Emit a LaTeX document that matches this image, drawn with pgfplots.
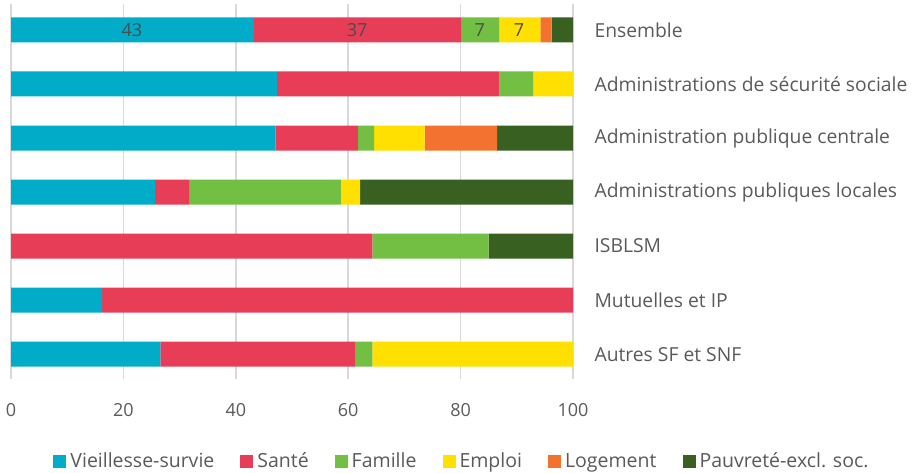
\documentclass[border=0pt]{standalone}
\usepackage{pgfplots}
\pgfplotsset{compat=1.18}
\usepackage{fontspec}
\setmainfont{Open Sans}
\definecolor{cViel}{HTML}{00ACC8}
\definecolor{cSante}{HTML}{E83D56}
\definecolor{cFam}{HTML}{72BF44}
\definecolor{cEmp}{HTML}{FFE000}
\definecolor{cLog}{HTML}{F3722F}
\definecolor{cPauv}{HTML}{376021}
\definecolor{txt}{HTML}{5A5A5A}
\begin{document}
\begin{tikzpicture}
\useasboundingbox (-11pt,-94pt) rectangle (904pt,379pt);
\begin{axis}[
  at={(0pt,0pt)}, anchor=south west,
  scale only axis,
  width=562pt, height=375pt,
  xbar stacked,
  bar width=25pt,
  xmin=0, xmax=100,
  ymin=-0.48, ymax=6.46,
  y dir=reverse,
  ytick={0,1,2,3,4,5,6},
  yticklabels={Ensemble,Administrations de sécurité sociale,Administration publique centrale,Administrations publiques locales,ISBLSM,Mutuelles et IP,Autres SF et SNF},
  yticklabel pos=right,
  yticklabel style={anchor=west, xshift=18pt, font=\fontsize{19.3}{21}\selectfont, text=txt},
  xtick={0,20,40,60,80,100},
  xticklabel style={yshift=-21pt, font=\fontsize{18}{20}\selectfont, text=txt},
  /pgf/number format/assume math mode=true,
  xmajorgrids,
  grid style={color=black!15, line width=1.5pt},
  axis line style={draw=none},
  major tick style={draw=none},
  major tick length=0pt,
  every axis plot/.append style={draw=none},
  legend columns=6,
  legend style={draw=none, at={(0.8025,-0.224)}, anchor=center,
    font=\fontsize{19.5}{21}\selectfont, text=txt,
    nodes={text height=14pt, text depth=5pt, inner xsep=2pt},
    /tikz/every even column/.append style={column sep=24pt},
    /tikz/every odd column/.append style={column sep=2pt}},
  legend image code/.code={\fill[#1] (0pt,-5pt) rectangle (13pt,8pt);},
]
\addplot[fill=cViel] coordinates {(43.2,0) (47.3,1) (47.1,2) (25.6,3) (0,4) (16.2,5) (26.6,6)};
\addplot[fill=cSante] coordinates {(36.9,0) (39.6,1) (14.6,2) (6.1,3) (64.3,4) (83.8,5) (34.7,6)};
\addplot[fill=cFam] coordinates {(6.8,0) (6.0,1) (2.9,2) (27.0,3) (20.7,4) (0,5) (3.0,6)};
\addplot[fill=cEmp] coordinates {(7.3,0) (7.1,1) (9.0,2) (3.4,3) (0,4) (0,5) (35.7,6)};
\addplot[fill=cLog] coordinates {(2.0,0) (0,1) (12.9,2) (0,3) (0,4) (0,5) (0,6)};
\addplot[fill=cPauv] coordinates {(3.9,0) (0,1) (13.5,2) (37.9,3) (15.0,4) (0,5) (0,6)};
\legend{Vieillesse-survie,Santé,Famille,Emploi,Logement,Pauvreté-excl. soc.}
\coordinate (la) at (axis cs:21.5,0);
\coordinate (lb) at (axis cs:61.6,0);
\coordinate (lc) at (axis cs:83.4,0);
\coordinate (ld) at (axis cs:90.4,0);
\end{axis}
\foreach \p/\t in {la/43,lb/37,lc/7,ld/7}
  \node[text=black!70, font=\fontsize{18}{20}\selectfont] at (\p) {\t};
\end{tikzpicture}
\end{document}
